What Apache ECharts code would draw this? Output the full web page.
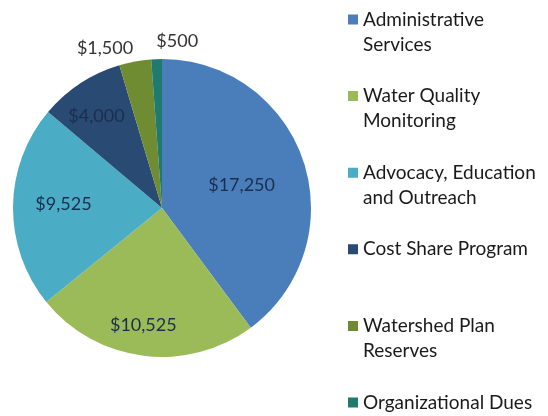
<!DOCTYPE html>
<html>
<head>
<meta charset="utf-8">
<script src="https://cdn.jsdelivr.net/npm/echarts@6/dist/echarts.min.js"></script>
<style>
	html, body { margin: 0; padding: 0; background: #fff; }
	#chart-container { width: 548px; height: 416px; }
</style>
</head>
<body>
<div id="chart-container"></div>
<script>
// budget categories and amounts
const categories = [
	'Administrative Services',
	'Water Quality Monitoring',
	'Advocacy, Education and Outreach',
	'Cost Share Program',
	'Watershed Plan Reserves',
	'Organizational Dues',
];
const amounts = [17250, 10525, 9525, 4000, 1500, 500];

// styling
const colors = ['#4a7ebb', '#9bbb59', '#4bacc6', '#284a73', '#6f8c33', '#1f7a70'];
const legendLines = {
	'Administrative Services': 'Administrative\nServices',
	'Water Quality Monitoring': 'Water Quality\nMonitoring',
	'Advocacy, Education and Outreach': 'Advocacy, Education\nand Outreach',
	'Cost Share Program': 'Cost Share Program\n ',
	'Watershed Plan Reserves': 'Watershed Plan\nReserves',
	'Organizational Dues': 'Organizational Dues\n ',
};
// label nudges from the default inside position
const labelOffsets = [[6, 2], [-9, 40], [-21, -3], [-23, -27], [-43, -84], [18, -89]];
const labelColors = ['#1c2e4f', '#1c2e4f', '#1c2e4f', '#1c2e4f', '#333333', '#333333'];
const fontFamily = 'Lato, "Open Sans", sans-serif';
// square sits at the top of a tall icon box so it lines up with the first text line
const legendIcon = 'path://M0,0L10,0L10,10L0,10Z M0,35L0.01,35L0.01,35.01Z';

let dom = document.getElementById('chart-container');
let myChart = echarts.init(dom, null, {
	renderer: 'canvas',
	useDirtyRect: false,
});

const pieData = categories.map(function (name, i) {
	return {
		name: name,
		value: amounts[i],
		itemStyle: { color: colors[i] },
		label: {
			offset: labelOffsets[i],
			color: labelColors[i],
		},
	};
});

let option = {
	animation: false,
	backgroundColor: '#ffffff',
	legend: {
		orient: 'vertical',
		left: 348,
		top: 7,
		height: 460,
		padding: 0,
		itemWidth: 10,
		itemHeight: 35,
		itemGap: 26.6,
		icon: legendIcon,
		selectedMode: false,
		data: categories,
		formatter: function (name) {
			return legendLines[name];
		},
		textStyle: {
			fontFamily: fontFamily,
			fontSize: 19,
			lineHeight: 25,
			color: '#1a1a1a',
		},
	},
	series: [
		{
			type: 'pie',
			center: [162, 208],
			radius: 149,
			startAngle: 90,
			clockwise: true,
			avoidLabelOverlap: false,
			silent: true,
			itemStyle: { borderWidth: 0 },
			label: {
				show: true,
				position: 'inside',
				fontFamily: fontFamily,
				fontSize: 18,
				formatter: function (p) {
					return '$' + p.value.toLocaleString('en-US');
				},
			},
			labelLine: { show: false },
			emphasis: { disabled: true },
			data: pieData,
		},
	],
};

myChart.setOption(option);
window.addEventListener('resize', myChart.resize);
</script>
</body>
</html>
